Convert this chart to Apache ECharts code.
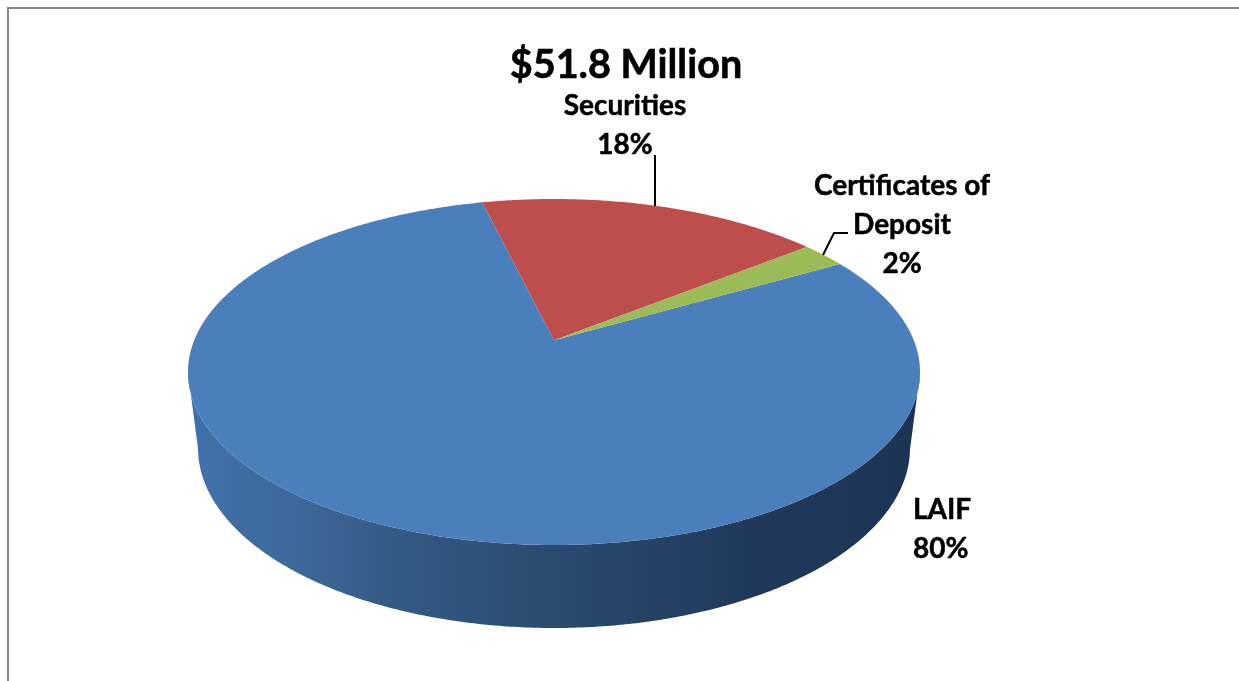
<!DOCTYPE html>
<html>
<head>
<meta charset="utf-8">
<style>html,body{margin:0;padding:0;background:#fff}#chart{width:1239px;height:681px}</style>
<script src="https://cdn.jsdelivr.net/npm/echarts@6/dist/echarts.min.js"></script>
</head>
<body>
<div id="chart"></div>
<script>
const titleText = '$51.8 Million'
const categories = ['LAIF', 'Securities', 'Certificates of\nDeposit']
// shown rounded on the labels, the slices are a little off the round numbers
const shares = [79.5, 18.1, 2.4]
const colors = ['#4b7fbc', '#be4e4b', '#9bbb59']

// the tilted disc
const top3d = { cx: 554, cy: 372, rx: 366, ry: 173 }
const bottom3d = { cx: 554, cy: 448, rx: 356, ry: 180 }
const startDeg = 60.2 // where LAIF starts, clockwise from the far side
const tilt = -0.184 // moves the pie centre away from the viewer
const labelPos = [
  { x: 913, y: 529, align: 'left' },
  { x: 625, y: 125, align: 'center' },
  { x: 902, y: 225, align: 'center' }
]
const leaders = [
  null,
  [[655, 155], [655, 206]],
  [[823, 255], [834, 233], [848, 233]]
]
const labelFont = {
  fontFamily: 'Lato',
  fontWeight: 'bold',
  fontSize: 28,
  lineHeight: 39,
  fill: '#000',
  stroke: '#000',
  lineWidth: 0.5
}

const total = shares.reduce((a, b) => a + b, 0)

// point on a rim: perspective boost of the unit circle, then the ellipse
const rimPoint = (deg, e) => {
  const t = (deg * Math.PI) / 180
  const c = Math.sin(t)
  const s = -Math.cos(t)
  const d = 1 + tilt * s
  const px = (c * Math.sqrt(1 - tilt * tilt)) / d
  const py = (s + tilt) / d
  return { x: e.cx + e.rx * px, y: e.cy + e.ry * py, front: py >= 0 }
}
const arc = (from, to, e) => {
  const pts = []
  const n = Math.ceil(to - from) * 2
  for (let i = 0; i <= n; i++) pts.push(rimPoint(from + ((to - from) * i) / n, e))
  return pts
}

const renderItem = (params, api) => {
  const i = params.dataIndex
  let before = 0
  for (let k = 0; k < i; k++) before += shares[k]
  const a0 = startDeg + (before / total) * 360
  const a1 = a0 + (api.value(0) / total) * 360
  const children = []

  // side wall, only the part facing us
  const upper = arc(a0, a1, top3d).filter((p) => p.front)
  const lower = arc(a0, a1, bottom3d).filter((p) => p.front)
  if (upper.length) {
    children.push({
      type: 'polygon',
      shape: { points: upper.concat(lower.reverse()).map((p) => [p.x, p.y]) },
      style: {
        fill: new echarts.graphic.LinearGradient(0, 0, 1, 0, [
          { offset: 0, color: '#4271ab' },
          { offset: 0.16, color: '#3c6899' },
          { offset: 0.28, color: '#345a85' },
          { offset: 0.5, color: '#2a4a70' },
          { offset: 0.775, color: '#20395a' },
          { offset: 1, color: '#1c3454' }
        ])
      }
    })
  }

  // top face
  const apex = [top3d.cx, top3d.cy + top3d.ry * tilt]
  children.push({
    type: 'polygon',
    shape: { points: [apex].concat(arc(a0, a1, top3d).map((p) => [p.x, p.y])) },
    style: { fill: colors[i] }
  })

  if (leaders[i]) {
    children.push({
      type: 'polyline',
      shape: { points: leaders[i] },
      style: { stroke: '#000', lineWidth: 2, fill: null }
    })
  }
  children.push({
    type: 'text',
    x: labelPos[i].x,
    y: labelPos[i].y,
    style: {
      ...labelFont,
      text: categories[i] + '\n' + Math.round(api.value(0)) + '%',
      align: labelPos[i].align,
      verticalAlign: 'middle'
    }
  })
  return { type: 'group', children }
}

const chart = echarts.init(document.getElementById('chart'), null, { renderer: 'canvas' })
chart.setOption({
  animation: false,
  backgroundColor: '#fff',
  title: {
    text: titleText,
    left: 621,
    top: 40,
    textAlign: 'center',
    textStyle: {
      fontFamily: 'Lato',
      fontWeight: 'bold',
      fontSize: 39.5,
      color: '#000',
      textBorderColor: '#000',
      textBorderWidth: 0.6
    }
  },
  graphic: [
    {
      type: 'polyline',
      silent: true,
      shape: { points: [[8, 681], [8, 8], [1239, 8]] },
      style: { fill: null, stroke: '#898989', lineWidth: 2 }
    }
  ],
  series: [
    {
      type: 'custom',
      coordinateSystem: 'none',
      renderItem,
      clip: false,
      data: shares.map((v, i) => ({ name: categories[i], value: [v] }))
    }
  ]
})
</script>
</body>
</html>
